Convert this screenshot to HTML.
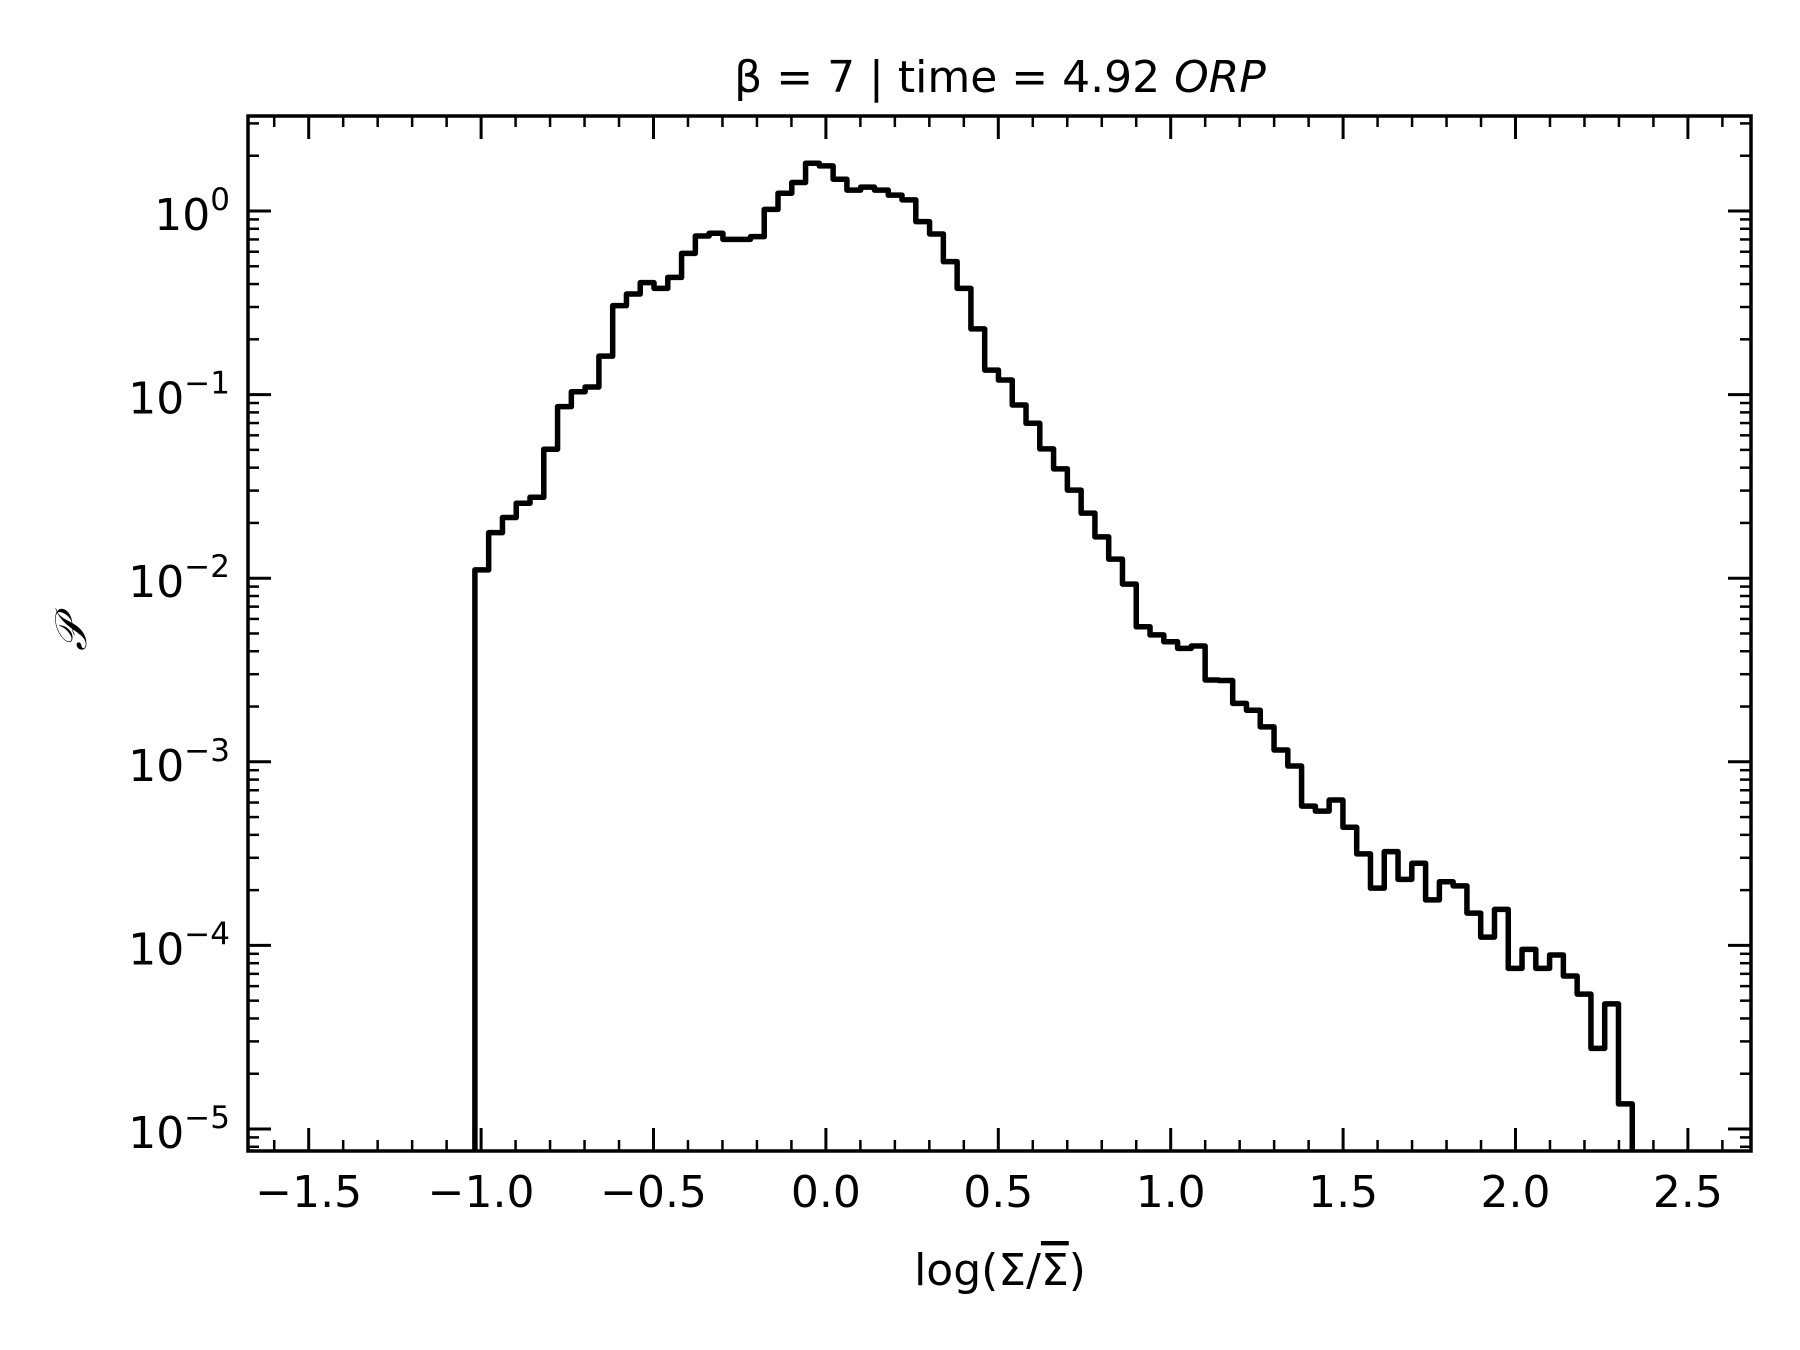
<!DOCTYPE html>
<html><head><meta charset="utf-8"><style>
html,body{margin:0;padding:0;background:#fff;}
svg{display:block;font-family:"DejaVu Sans","Liberation Sans",sans-serif;}
</style></head><body>
<svg id="chart" width="1800" height="1350" viewBox="0 0 1800 1350" xmlns="http://www.w3.org/2000/svg">
<rect x="0" y="0" width="1800" height="1350" fill="#fff"/>
<text x="1000" y="92" font-size="44" text-anchor="middle">β = 7 | time = 4.92 <tspan font-style="italic">ORP</tspan></text>
<g id="axes"></g>
<text x="1000" y="1285" font-size="44" text-anchor="middle">log(Σ/<tspan text-decoration="overline">Σ</tspan>)</text>
<text transform="translate(86,635) rotate(-90)" font-size="44" font-style="italic" text-anchor="middle" font-family="DejaVu Serif, Liberation Serif, serif">𝒫</text>
</svg>
<script>
const binStart = -1.018;
const binWidth = 0.03996;
const pdfValues = [0.0111,0.0177,0.0214,0.0256,0.0276,0.0504,0.0860,0.1037,0.110,0.162,
0.305,0.353,0.407,0.379,0.435,0.588,0.731,0.756,0.701,0.701,
0.725,1.02,1.25,1.43,1.82,1.76,1.49,1.30,1.35,1.30,
1.22,1.15,0.875,0.75,0.53,0.379,0.228,0.136,0.120,0.0878,
0.0698,0.0506,0.0394,0.0302,0.0226,0.0168,0.0127,0.00929,0.00544,0.00491,
0.00451,0.00415,0.00427,0.00279,0.00277,0.00208,0.00191,0.00155,0.00116,0.000948,
0.000574,0.000539,0.000619,0.000440,0.000315,0.000205,0.000324,0.000229,0.000280,0.000177,
0.000222,0.000211,0.000150,0.000111,0.000157,7.5e-5,9.52e-5,7.5e-5,8.87e-5,6.81e-5,
5.43e-5,2.75e-5,4.80e-5,1.37e-5];
const xTicks = [-1.5,-1.0,-0.5,0.0,0.5,1.0,1.5,2.0,2.5];
const xTickLabels = ["\u22121.5","\u22121.0","\u22120.5","0.0","0.5","1.0","1.5","2.0","2.5"];
const yDecades = [0,-1,-2,-3,-4,-5];
const yTickExps = ["0","\u22121","\u22122","\u22123","\u22124","\u22125"];

const L=248,R=1751,T=116,B=1151;
function X(v){return 308.7+(v+1.5)*344.8;}
function Y(v){return 211-Math.log10(v)*183.6;}
const NS="http://www.w3.org/2000/svg";
const g=document.getElementById('axes');
function el(tag,attrs,parent){const e=document.createElementNS(NS,tag);for(const k in attrs)e.setAttribute(k,attrs[k]);(parent||g).appendChild(e);return e;}

// clip
const defs=el('defs',{});
const cp=el('clipPath',{id:'clip'},defs);
el('rect',{x:L,y:T,width:R-L,height:B-T},cp);

// histogram
let d='M'+X(binStart)+','+(B+20);
for(let i=0;i<pdfValues.length;i++){
  const x0=X(binStart+i*binWidth), x1=X(binStart+(i+1)*binWidth), y=Y(pdfValues[i]);
  d+=' L'+x0+','+y+' L'+x1+','+y;
}
d+=' L'+X(binStart+pdfValues.length*binWidth)+','+(B+20);
const hist=el('path',{d:d,fill:'none',stroke:'#000','stroke-width':5.5,'stroke-linejoin':'round','clip-path':'url(#clip)'});



// x ticks
for(let k=-17;k<=27;k++){
  const v=k/10, px=X(v);
  if(px<L+1||px>R-1)continue;
  const major=(k%5===0);
  const len=major?23:11, w=major?3:2.5;
  const t1=el('line',{x1:px,x2:px,y1:B,y2:B-len,stroke:'#000','stroke-width':w});
  
  
  const t2=el('line',{x1:px,x2:px,y1:T,y2:T+len,stroke:'#000','stroke-width':w});
  
  
}
xTicks.forEach((v,i)=>{
  const t=el('text',{x:X(v),y:1207,'font-size':44,'text-anchor':'middle'});
  t.textContent=xTickLabels[i];
  
  
});

// y ticks
for(let e=1;e>=-6;e--){
  for(let m=1;m<=9;m++){
    const v=m*Math.pow(10,e), py=Y(v);
    if(py<T+1||py>B-1)continue;
    const major=(m===1);
    const len=major?23:11, w=major?3:2.5;
    const a=el('line',{x1:L,x2:L+len,y1:py,y2:py,stroke:'#000','stroke-width':w});
    
    
    const b=el('line',{x1:R,x2:R-len,y1:py,y2:py,stroke:'#000','stroke-width':w});
    
    
  }
}
yDecades.forEach((e,i)=>{
  const py=Y(Math.pow(10,e));
  const t=el('text',{x:230,y:py+19,'font-size':44,'text-anchor':'end'});
  
  
  const base=document.createElementNS(NS,'tspan');base.textContent='10';t.appendChild(base);
  const sup=document.createElementNS(NS,'tspan');sup.setAttribute('dy','-20');sup.setAttribute('font-size','31');sup.textContent=yTickExps[i];t.appendChild(sup);
});

// spines
const sp=el('rect',{x:L,y:T,width:R-L,height:B-T,fill:'none',stroke:'#000','stroke-width':3.5});


</script>
</body></html>
